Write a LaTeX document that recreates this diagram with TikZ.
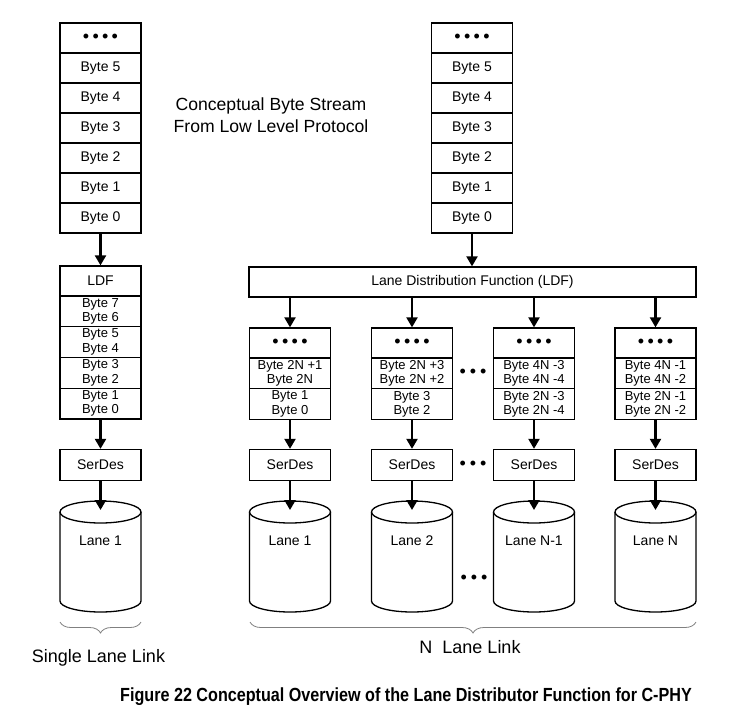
\documentclass[tikz,border=0pt]{standalone}
\usepackage{fontspec}
\setmainfont{Liberation Sans}
\newfontfamily\capfont[FakeStretch=0.85]{Liberation Sans}
\usetikzlibrary{arrows.meta,decorations.pathreplacing}
\tikzset{
  cell/.style={draw, line width=1.3pt, minimum width=81pt, minimum height=30pt, inner sep=0pt, font=\fontsize{14}{16}\selectfont},
  pair/.style={cell, minimum height=30.75pt, align=center, font=\fontsize{13}{14.5}\selectfont},
  flow/.style={line width=2.2pt, -{Triangle[width=11pt,length=10pt]}},
  cyl/.style={line width=1.3pt},
  lbl/.style={inner sep=0pt, font=\fontsize{14}{16}\selectfont},
  brc/.style={draw=gray, line width=0.8pt, decorate, decoration={brace, mirror, amplitude=11pt}},
}
\newcommand{\dts}{{\fontsize{18}{18}\selectfont\textbullet\hspace{3.3pt}\textbullet\hspace{3.3pt}\textbullet\hspace{3.3pt}\textbullet}}
\newcommand{\gapdots}{{\fontsize{18}{18}\selectfont\textbullet\hspace{4pt}\textbullet\hspace{4pt}\textbullet}}
\begin{document}
\begin{tikzpicture}[x=1pt,y=-1pt]
\useasboundingbox (0,0) rectangle (736,718);
% ---------- left single lane ----------
\node[cell] (lsd) at (100.5,38) {\dts};
\node[cell] (ls5) at (100.5,68) {Byte 5};
\node[cell] (ls4) at (100.5,98) {Byte 4};
\node[cell] (ls3) at (100.5,128) {Byte 3};
\node[cell] (ls2) at (100.5,158) {Byte 2};
\node[cell] (ls1) at (100.5,188) {Byte 1};
\node[cell] (ls0) at (100.5,218) {Byte 0};
\node[cell] (lldf) at (100.5,281) {LDF};
\node[pair] (lp3) at (100.5,311.4) {Byte 7\\Byte 6};
\node[pair] (lp2) at (100.5,342.1) {Byte 5\\Byte 4};
\node[pair] (lp1) at (100.5,372.9) {Byte 3\\Byte 2};
\node[pair] (lp0) at (100.5,403.6) {Byte 1\\Byte 0};
\node[cell, minimum height=31pt] (lsd2) at (100.5,465) {SerDes};
\draw[flow] (ls0.south) -- (lldf.north);
\draw[flow] (lp0.south) -- (lsd2.north);
% cylinder
\draw[cyl] (60,512) -- (60,601) arc[start angle=180, end angle=0, x radius=40.5, y radius=11] -- (141,512);
\draw[cyl] (100.5,512) ellipse [x radius=40.5, y radius=11];
\coordinate (lcyl) at (100.5,510);
\node[lbl] (llane) at (100.5,541) {Lane 1};
\draw[flow] (lsd2.south) -- (lcyl);
\draw[brc] (60,622) -- (141,622);
\node[lbl, font=\fontsize{18}{20}\selectfont] (single) at (98.5,658) {Single Lane Link};
% ---------- title ----------
\node[align=center, font=\fontsize{17.6}{22}\selectfont] (title) at (271,115) {Conceptual Byte Stream\\From Low Level Protocol};
% ---------- right N lane ----------
\node[cell] (rsd) at (472,38) {\dts};
\node[cell] (rs5) at (472,68) {Byte 5};
\node[cell] (rs4) at (472,98) {Byte 4};
\node[cell] (rs3) at (472,128) {Byte 3};
\node[cell] (rs2) at (472,158) {Byte 2};
\node[cell] (rs1) at (472,188) {Byte 1};
\node[cell] (rs0) at (472,218) {Byte 0};
\node[cell, minimum width=447pt] (rldf) at (472.5,282) {Lane Distribution Function (LDF)};
\draw[flow] (rs0.south) -- (rs0.south |- rldf.north);
% columns
\foreach \i/\x/\ta/\tb/\tc/\td/\lane in {1/290/Byte 2N +1/Byte 2N/Byte 1/Byte 0/Lane 1,
                                    2/412/Byte 2N +3/Byte 2N +2/Byte 3/Byte 2/Lane 2,
                                    3/534/Byte 4N -3/Byte 4N -4/Byte 2N -3/Byte 2N -4/Lane N-1,
                                    4/655.5/Byte 4N -1/Byte 4N -2/Byte 2N -1/Byte 2N -2/Lane N}{
  \node[cell] (cd\i) at (\x,343) {\dts};
  \node[pair] (ca\i) at (\x,373.4) {\ta\\\tb};
  \node[pair] (cb\i) at (\x,404.1) {\tc\\\td};
  \node[cell, minimum height=31pt] (cs\i) at (\x,465) {SerDes};
  \draw[flow] (rldf.south -| cd\i.north) -- (cd\i.north);
  \draw[flow] (cb\i.south) -- (cs\i.north);
  \draw[cyl] (\x-40.5,512) -- (\x-40.5,601) arc[start angle=180, end angle=0, x radius=40.5, y radius=11] -- (\x+40.5,512);
  \draw[cyl] (\x,512) ellipse [x radius=40.5, y radius=11];
  \coordinate (cc\i) at (\x,510);
  \node[lbl] (cl\i) at (\x,541) {\lane};
  \draw[flow] (cs\i.south) -- (cc\i);
}
\node[lbl] (dotA) at (473,373.4) {\gapdots};
\node[lbl] (dotB) at (473,465) {\gapdots};
\node[lbl] (dotC) at (474,579) {\gapdots};
\draw[brc] (250,622) -- (696,622);
\node[lbl, font=\fontsize{18}{20}\selectfont] (nlane) at (470,647) {N\ \ Lane Link};
% ---------- caption ----------
\node[inner sep=0pt, font=\capfont\bfseries\fontsize{19}{21}\selectfont] (cap) at (406,697) {Figure 22 Conceptual Overview of the Lane Distributor Function for C-PHY};
\end{tikzpicture}
\end{document}
